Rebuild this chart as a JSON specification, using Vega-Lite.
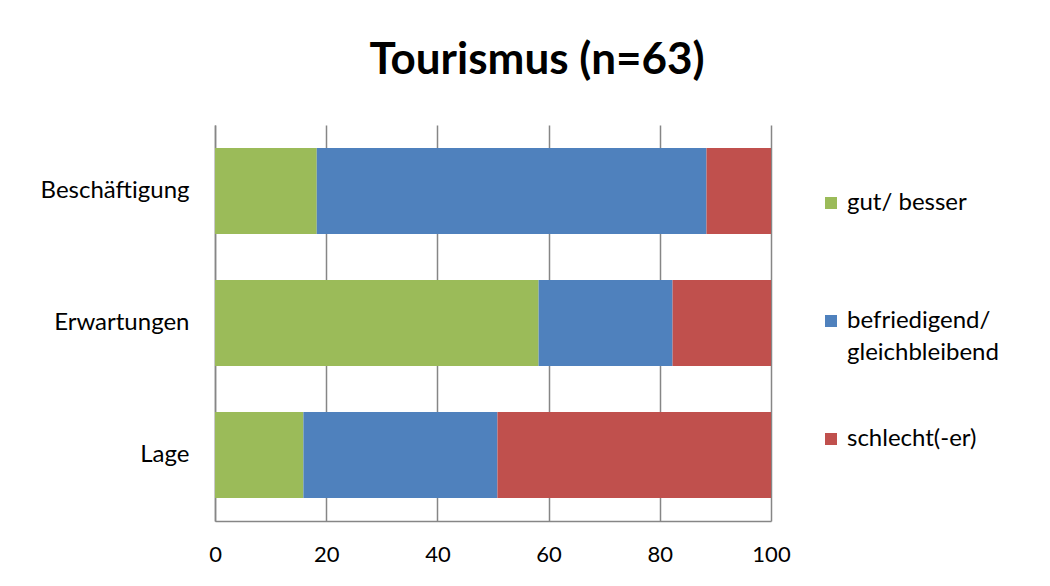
{
  "$schema": "https://vega.github.io/schema/vega-lite/v6.json",
  "autosize": "none",
  "width": 556,
  "height": 396,
  "padding": {"left": 215, "top": 125, "right": 279, "bottom": 65},
  "background": "white",
  "title": {
    "text": "Tourismus (n=63)",
    "font": "Lato",
    "fontSize": 44,
    "fontWeight": "bold",
    "color": "#000000",
    "anchor": "middle",
    "dx": 44,
    "offset": 42
  },
  "data": {
    "values": [
      {"kategorie": "Beschäftigung", "bewertung": "gut/ besser", "rang": 1, "wert": 18.3},
      {"kategorie": "Beschäftigung", "bewertung": "befriedigend/ gleichbleibend", "rang": 2, "wert": 70.1},
      {"kategorie": "Beschäftigung", "bewertung": "schlecht(-er)", "rang": 3, "wert": 11.6},
      {"kategorie": "Erwartungen", "bewertung": "gut/ besser", "rang": 1, "wert": 58.2},
      {"kategorie": "Erwartungen", "bewertung": "befriedigend/ gleichbleibend", "rang": 2, "wert": 24.1},
      {"kategorie": "Erwartungen", "bewertung": "schlecht(-er)", "rang": 3, "wert": 17.7},
      {"kategorie": "Lage", "bewertung": "gut/ besser", "rang": 1, "wert": 15.9},
      {"kategorie": "Lage", "bewertung": "befriedigend/ gleichbleibend", "rang": 2, "wert": 34.9},
      {"kategorie": "Lage", "bewertung": "schlecht(-er)", "rang": 3, "wert": 49.2}
    ]
  },
  "mark": {"type": "bar"},
  "encoding": {
    "y": {
      "field": "kategorie",
      "type": "nominal",
      "sort": ["Beschäftigung", "Erwartungen", "Lage"],
      "scale": {"paddingInner": 0.35, "paddingOuter": 0.175},
      "axis": {
        "title": null,
        "ticks": false,
        "labelFont": "Lato",
        "labelFontSize": 24,
        "labelColor": "#000000",
        "labelPadding": 26,
        "domainColor": "#868686",
        "domainWidth": 1.5
      }
    },
    "x": {
      "field": "wert",
      "type": "quantitative",
      "stack": "zero",
      "scale": {"domain": [0, 100], "nice": false},
      "axis": {
        "title": null,
        "values": [0, 20, 40, 60, 80, 100],
        "ticks": false,
        "grid": true,
        "gridColor": "#868686",
        "gridWidth": 1.5,
        "domainColor": "#868686",
        "domainWidth": 1.5,
        "labelFont": "Lato",
        "labelFontSize": 22,
        "labelColor": "#000000",
        "labelPadding": 23,
        "labelFlush": false
      }
    },
    "color": {
      "field": "bewertung",
      "type": "nominal",
      "sort": ["gut/ besser", "befriedigend/ gleichbleibend", "schlecht(-er)"],
      "scale": {
        "domain": ["gut/ besser", "befriedigend/ gleichbleibend", "schlecht(-er)"],
        "range": ["#9BBB59", "#4F81BD", "#C0504D"]
      },
      "legend": {
        "title": null,
        "orient": "none",
        "legendX": 604,
        "legendY": 66,
        "gridAlign": "all",
        "symbolType": "square",
        "symbolSize": 144,
        "symbolStrokeWidth": 0,
        "labelFont": "Lato",
        "labelFontSize": 24,
        "labelColor": "#000000",
        "labelOffset": 4,
        "labelLimit": 300,
        "rowPadding": 62,
        "labelExpr": "datum.label == 'befriedigend/ gleichbleibend' ? ['befriedigend/', 'gleichbleibend'] : datum.label",
        "encode": {"labels": {"update": {"lineHeight": {"value": 32}}}}
      }
    },
    "order": {"field": "rang", "type": "quantitative"}
  },
  "config": {
    "view": {"stroke": null}
  }
}
